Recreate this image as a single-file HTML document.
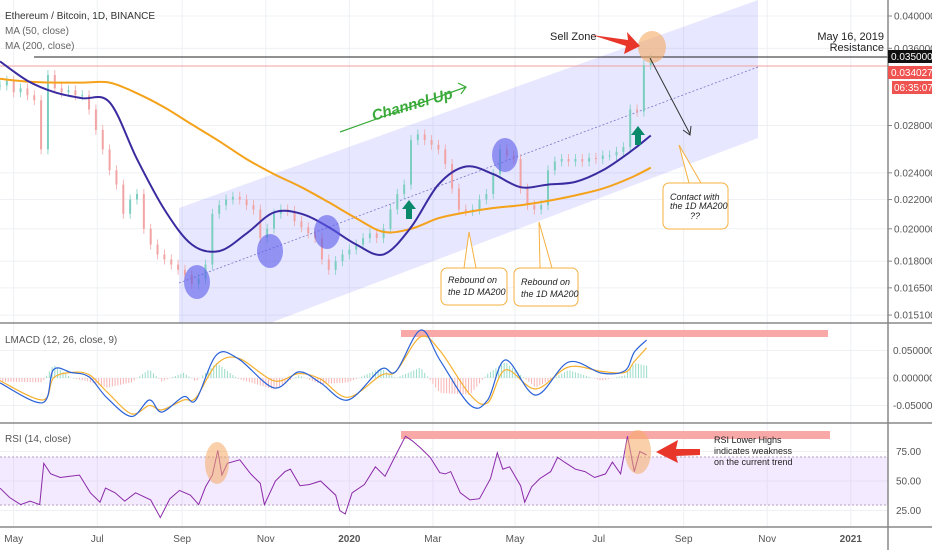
<!DOCTYPE html>
<html><head><meta charset="utf-8"><style>
html,body{margin:0;padding:0;background:#fff;}
svg{display:block;font-family:"Liberation Sans",sans-serif;}
.ax{font-size:10px;fill:#555;}
</style></head><body>
<svg id="chart" width="932" height="550" viewBox="0 0 932 550">
<g id="grid"></g>
<polygon points="179,208 758,0 758,138 270,323 179,323" fill="rgba(110,110,255,0.17)"/>
<line x1="179" y1="283" x2="758" y2="67" stroke="#7777cc" stroke-width="0.8" stroke-dasharray="2,2"/>
<line x1="34" y1="57" x2="888" y2="57" stroke="#222" stroke-width="1"/>
<line x1="0" y1="66" x2="888" y2="66" stroke="#f0a0a0" stroke-width="1"/>
<g id="candles"></g>
<path id="ma200" fill="none" stroke="#f5a21b" stroke-width="2"/>
<path id="ma50" fill="none" stroke="#3a2ca0" stroke-width="2"/>
<g fill="rgba(90,90,235,0.6)">
<ellipse cx="197" cy="282" rx="13" ry="17"/><ellipse cx="270" cy="251" rx="13" ry="17"/><ellipse cx="327" cy="232" rx="13" ry="17"/><ellipse cx="505" cy="155" rx="13" ry="17"/>
</g>
<ellipse cx="652" cy="47" rx="14" ry="16" fill="rgba(245,170,100,0.6)"/>
<text x="550" y="40" font-size="11" fill="#222">Sell Zone</text>
<polygon points="592,35 628,40 627,32 640,46 624,54 626,46" fill="#e8372a"/>
<line x1="650" y1="58" x2="690" y2="134" stroke="#333" stroke-width="1"/>
<polyline points="683,130 690,135 691,126" fill="none" stroke="#333"/>
<polygon points="409,200 402,209 406,209 406,219 412,219 412,209 416,209" fill="#0a8a6a"/>
<polygon points="638,126 631,135 635,135 635,145 641,145 641,135 645,135" fill="#0a8a6a"/>
<line x1="340" y1="132" x2="466" y2="87" stroke="#3aaa3a" stroke-width="1.2"/>
<polyline points="458,83 466,87 461,94" fill="none" stroke="#3aaa3a" stroke-width="1.2"/>
<text x="370" y="112" font-size="15" font-style="italic" font-weight="bold" fill="#3aaa3a" transform="rotate(-16 403 104)">Channel Up</text>
<g>
<polygon points="469,232 464,268 476,268" fill="#fff" stroke="#f5b041"/>
<rect x="441" y="268" width="66" height="37" rx="6" fill="#fff" stroke="#f5b041"/>
<text x="448" y="283" font-size="9" font-style="italic" fill="#222">Rebound on</text><text x="448" y="295" font-size="9" font-style="italic" fill="#222">the 1D MA200</text>
</g>
<g>
<polygon points="539,222 540,268 552,268" fill="#fff" stroke="#f5b041"/>
<rect x="514" y="268" width="64" height="38" rx="6" fill="#fff" stroke="#f5b041"/>
<text x="521" y="285" font-size="9" font-style="italic" fill="#222">Rebound on</text><text x="521" y="297" font-size="9" font-style="italic" fill="#222">the 1D MA200</text>
</g>
<g>
<polygon points="679,145 689,183 701,183" fill="#fff" stroke="#f5b041"/>
<rect x="663" y="183" width="65" height="46" rx="6" fill="#fff" stroke="#f5b041"/>
<text x="670" y="200" font-size="9" font-style="italic" fill="#222">Contact with</text><text x="670" y="209" font-size="9" font-style="italic" fill="#222">the 1D MA200</text><text x="690" y="219" font-size="9" font-style="italic" fill="#222">??</text>
</g>
<text x="884" y="40" font-size="11" text-anchor="end" fill="#222">May 16, 2019</text>
<text x="884" y="51" font-size="11" text-anchor="end" fill="#222">Resistance</text>
<text x="5" y="19" font-size="10" fill="#333">Ethereum / Bitcoin, 1D, BINANCE</text>
<text x="5" y="34" font-size="10" fill="#666">MA (50, close)</text>
<text x="5" y="49" font-size="10" fill="#666">MA (200, close)</text>

<rect x="401" y="330" width="427" height="7" fill="#f9a8a8"/>
<g id="hist"></g>
<path id="sig" fill="none" stroke="#f5b030" stroke-width="1.2"/>
<path id="macd" fill="none" stroke="#2a62d8" stroke-width="1.2"/>
<text x="5" y="343" font-size="10" fill="#555">LMACD (12, 26, close, 9)</text>

<rect x="0" y="457" width="888" height="48" fill="rgba(200,150,255,0.2)"/>
<line x1="0" y1="457" x2="888" y2="457" stroke="#b0a0c0" stroke-dasharray="2,2"/>
<line x1="0" y1="505" x2="888" y2="505" stroke="#b0a0c0" stroke-dasharray="2,2"/>
<rect x="401" y="431" width="429" height="8" fill="#f9a8a8"/>
<path id="rsi" fill="none" stroke="#8a2aa8" stroke-width="1"/>
<ellipse cx="217" cy="463" rx="12" ry="21" fill="rgba(245,170,100,0.55)"/>
<ellipse cx="638" cy="452" rx="13" ry="22" fill="rgba(245,170,100,0.55)"/>
<polygon points="700,449 676,449 678,440 656,452 678,463 676,456 700,455" fill="#e8372a"/>
<text font-size="9" fill="#222"><tspan x="714" y="443">RSI Lower Highs</tspan><tspan x="714" y="454">indicates weakness</tspan><tspan x="714" y="465">on the current trend</tspan></text>
<text x="5" y="442" font-size="10" fill="#555">RSI (14, close)</text>

<g stroke="#888" stroke-width="1.5">
<line x1="0" y1="323" x2="932" y2="323"/><line x1="0" y1="423" x2="932" y2="423"/><line x1="0" y1="527" x2="932" y2="527"/><line x1="888" y1="0" x2="888" y2="550"/>
</g>
<g id="axes"></g>
<rect x="888" y="50" width="44" height="13" fill="#111"/>
<text x="891" y="60" font-size="10" fill="#fff">0.035000</text>
<rect x="888" y="66" width="44" height="13" fill="#ef5350"/>
<text x="891" y="76" font-size="10" fill="#fff">0.034027</text>
<rect x="892" y="81" width="40" height="13" fill="#ef5350"/>
<text x="894" y="91" font-size="10" fill="#fff">06:35:07</text>
</svg>
<script>
const candleStepDays = 5;
const closes = [0.0319,0.0324,0.0312,0.0316,0.0309,0.0304,0.0259,0.0330,0.0316,0.0312,0.0314,0.0309,0.0309,0.0295,0.0276,0.0259,0.0242,0.0231,0.0210,0.0220,0.0224,0.0200,0.0190,0.0184,0.0181,0.0178,0.0175,0.0172,0.0167,0.0170,0.0178,0.0210,0.0216,0.0220,0.0222,0.0220,0.0216,0.0213,0.0194,0.0200,0.0210,0.0213,0.0212,0.0205,0.0201,0.0197,0.0194,0.0181,0.0175,0.0180,0.0184,0.0187,0.0190,0.0194,0.0197,0.0194,0.0200,0.0213,0.0224,0.0231,0.0267,0.0272,0.0267,0.0263,0.0259,0.0247,0.0228,0.0213,0.0212,0.0213,0.0220,0.0224,0.0239,0.0259,0.0254,0.0251,0.0228,0.0216,0.0213,0.0216,0.0242,0.0249,0.0251,0.0249,0.0251,0.0249,0.0252,0.0251,0.0254,0.0254,0.0257,0.0261,0.0295,0.0293,0.0341,0.0347];
const maDays = [0,20,40,60,80,100,120,140,160,180,200,220,240,260,280,300,320,340,360,380,400,420,440,460,475];
const ma50 = [0.0345,0.0324,0.0312,0.0306,0.0302,0.0251,0.0213,0.0190,0.0186,0.0197,0.0211,0.0210,0.0201,0.0190,0.0184,0.0201,0.0231,0.0245,0.0239,0.0229,0.0231,0.0233,0.0242,0.0257,0.0271];
const ma200 = [0.0326,0.0323,0.0322,0.0322,0.0322,0.0311,0.0297,0.0281,0.0266,0.0251,0.0239,0.0229,0.0218,0.0207,0.0198,0.0200,0.0207,0.0211,0.0214,0.0216,0.0219,0.0223,0.0228,0.0236,0.0244];
const macdDays = [0,31,39,52,65,78,96,109,118,134,143,158,174,200,218,234,254,278,289,307,321,343,356,369,391,415,439,456,463,472];
const macdVals = [-0.009,-0.045,0.015,0.01,0.002,-0.036,-0.07,-0.04,-0.062,-0.034,-0.04,0.042,0.035,-0.018,0.011,-0.009,-0.04,0.016,0.012,0.087,0.033,-0.049,-0.04,0.033,-0.031,0.029,0.009,0.013,0.047,0.069];
const signalVals = [-0.005,-0.04,0.0,0.01,0.006,-0.025,-0.065,-0.05,-0.058,-0.04,-0.036,0.025,0.036,-0.005,0.008,-0.002,-0.035,0.005,0.012,0.075,0.05,-0.03,-0.045,0.015,-0.02,0.02,0.012,0.01,0.03,0.055];
const rsiDays = [0,7,15,22,29,32,37,44,51,58,66,73,77,84,91,99,110,117,124,131,139,145,150,155,159,162,166,175,183,190,193,201,208,212,219,226,234,245,248,252,257,266,274,281,288,296,301,307,314,321,325,329,336,343,350,358,363,367,372,380,383,388,394,402,407,412,420,427,434,442,447,453,458,463,467,472];
const rsiVals = [44,36,30,33,30,65,56,53,54,55,40,32,44,40,33,40,34,19,35,42,38,30,45,55,76,55,65,68,56,48,30,50,58,60,46,47,50,38,25,22,40,47,62,54,70,88,84,78,70,57,56,58,40,34,35,52,74,60,62,46,32,45,52,58,70,66,60,58,53,56,66,56,88,58,75,72];
const priceTicks = [0.040,0.036,0.028,0.024,0.022,0.020,0.018,0.0165,0.0151];
const priceTickLabels = ["0.040000","0.036000","0.028000","0.024000","0.022000","0.020000","0.018000","0.016500","0.015100"];
const macdTicks = [0.05,0,-0.05];
const macdTickLabels = ["0.050000","0.000000","-0.050000"];
const rsiTicks = [75,50,25];
const rsiTickLabels = ["75.00","50.00","25.00"];
const monthDays = [10,71,133,194,255,316,376,437,499,560,621];
const monthLabels = ["May","Jul","Sep","Nov","2020","Mar","May","Jul","Sep","Nov","2021"];

const NS="http://www.w3.org/2000/svg";
const X = d => d*1.37;
const Y = p => 16 - 307*Math.log(p/0.04);
const YM = v => 378 - v/0.05*27.5;
const YR = v => 481 - (v-50)*1.18;
function mk(tag, attrs, parent){const e=document.createElementNS(NS,tag);for(const k in attrs)e.setAttribute(k,attrs[k]);parent.appendChild(e);return e;}
function smooth(pts){let d="M"+pts[0][0]+","+pts[0][1];for(let i=0;i<pts.length-1;i++){const p0=pts[Math.max(0,i-1)],p1=pts[i],p2=pts[i+1],p3=pts[Math.min(pts.length-1,i+2)];const c1=[p1[0]+(p2[0]-p0[0])/6,p1[1]+(p2[1]-p0[1])/6],c2=[p2[0]-(p3[0]-p1[0])/6,p2[1]-(p3[1]-p1[1])/6];d+=" C"+c1[0].toFixed(1)+","+c1[1].toFixed(1)+" "+c2[0].toFixed(1)+","+c2[1].toFixed(1)+" "+p2[0].toFixed(1)+","+p2[1].toFixed(1);}return d;}
function poly(pts){return "M"+pts.map(p=>p[0].toFixed(1)+","+p[1].toFixed(1)).join(" L");}

const grid=document.getElementById('grid'), axes=document.getElementById('axes');
monthDays.forEach((d,i)=>{
  const l=mk('line',{x1:X(d),x2:X(d),y1:0,y2:527,stroke:'#eef0f4'},grid);
  
  
  const t=mk('text',{x:X(d),y:542,'text-anchor':'middle',class:'ax'},axes);
  
  
  t.textContent=monthLabels[i];
  if(monthLabels[i]==="2020"||monthLabels[i]==="2021"){t.setAttribute('font-weight','bold');t.setAttribute('fill','#333');}
});
priceTicks.forEach((p,i)=>{
  mk('line',{x1:0,x2:888,y1:Y(p),y2:Y(p),stroke:'#eef0f4'},grid);
  mk('line',{x1:888,x2:892,y1:Y(p),y2:Y(p),stroke:'#888'},axes);
  const t=mk('text',{x:894,y:Y(p)+3.5,class:'ax'},axes);
  
  
  t.textContent=priceTickLabels[i];
});
macdTicks.forEach((v,i)=>{
  mk('line',{x1:0,x2:888,y1:YM(v),y2:YM(v),stroke:'#eef0f4'},grid);
  const t=mk('text',{x:893,y:YM(v)+3.5,class:'ax'},axes);
  
  
  t.textContent=macdTickLabels[i];
});
rsiTicks.forEach((v,i)=>{
  mk('line',{x1:0,x2:888,y1:YR(v),y2:YR(v),stroke:'#eef0f4'},grid);
  const t=mk('text',{x:896,y:YR(v)+3.5,class:'ax'},axes);
  
  
  t.textContent=rsiTickLabels[i];
});

const cg=document.getElementById('candles');
closes.forEach((c,i)=>{
  const o=i>0?closes[i-1]:c;
  const x=X(i*candleStepDays);
  const up=c>=o; const col=up?'#7ccfc0':'#f2a4a4';
  const y1=Math.min(Y(o),Y(c)), y2=Math.max(Y(o),Y(c));
  mk('line',{x1:x,x2:x,y1:y1-5,y2:y2+5,stroke:col,'stroke-width':0.8},cg);
  const r=mk('rect',{x:x-1,y:y1,width:2,height:Math.max(1,y2-y1),fill:col},cg);
  
  
});
document.getElementById('ma50').setAttribute('d',smooth(maDays.map((d,i)=>[X(d),Y(ma50[i])])));
document.getElementById('ma200').setAttribute('d',smooth(maDays.map((d,i)=>[X(d),Y(ma200[i])])));
document.getElementById('macd').setAttribute('d',smooth(macdDays.map((d,i)=>[X(d),YM(macdVals[i])])));
document.getElementById('sig').setAttribute('d',smooth(macdDays.map((d,i)=>[X(d),YM(signalVals[i])])));
document.getElementById('rsi').setAttribute('d',poly(rsiDays.map((d,i)=>[X(d),YR(rsiVals[i])])));

function interp(days,vals,d){for(let i=0;i<days.length-1;i++){if(d>=days[i]&&d<=days[i+1]){const t=(d-days[i])/(days[i+1]-days[i]);return vals[i]+t*(vals[i+1]-vals[i]);}}return null;}
const hg=document.getElementById('hist');
for(let d=0; d<=macdDays[macdDays.length-1]; d+=2){
  const m=interp(macdDays,macdVals,d), s=interp(macdDays,signalVals,d);
  if(m===null)continue;
  const h=(m-s)*1.6;
  const y0=YM(0), y1=YM(h);
  const b=mk('rect',{x:X(d)-0.5,y:Math.min(y0,y1),width:1,height:Math.abs(y1-y0),fill:h>=0?'#9adcc8':'#f6b4b4'},hg);
  
  
}
</script>
</body></html>
